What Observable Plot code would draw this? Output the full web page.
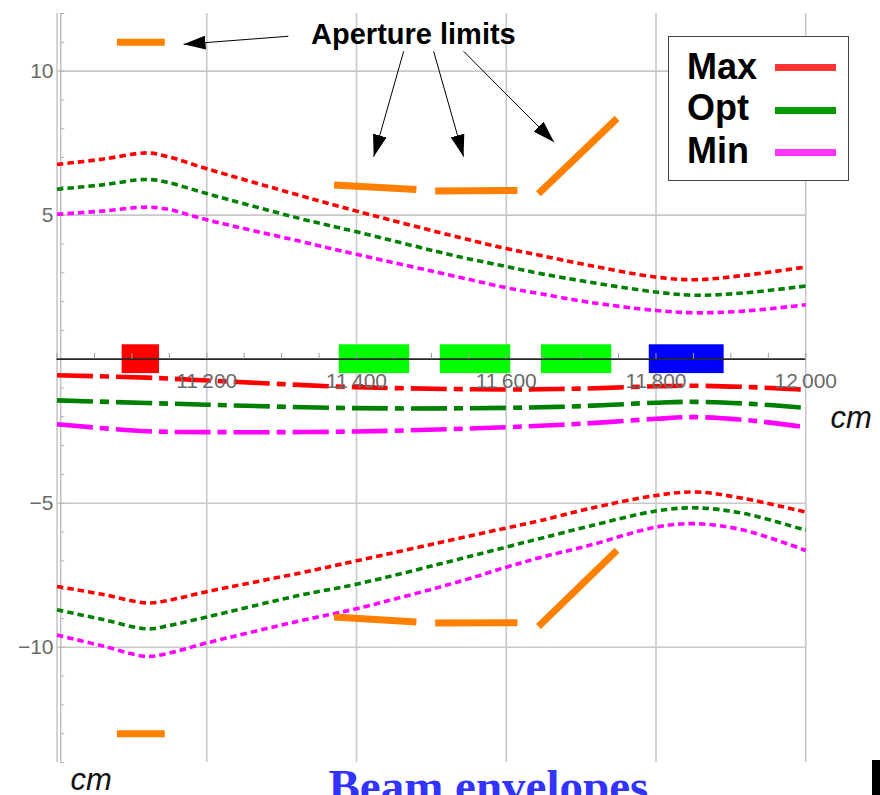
<!DOCTYPE html>
<html>
<head>
<meta charset="utf-8">
<script src="https://cdn.jsdelivr.net/npm/d3@7"></script>
<script src="https://cdn.jsdelivr.net/npm/@observablehq/plot@0.6"></script>
<style>
html, body { margin: 0; padding: 0; background: #fff; overflow: hidden; }
#wrap { position: relative; width: 880px; height: 795px; font-family: "Liberation Sans", Arial, sans-serif; }
#wrap svg { position: absolute; left: 0; top: 0; }
#legend { position: absolute; left: 668px; top: 36px; width: 179px; height: 143px; border: 1.3px solid #444; background: #fff; }
.lg { position: absolute; left: 18px; font-weight: bold; font-size: 36px; line-height: 36px; color: #000; white-space: nowrap; }
.sw { position: absolute; left: 106px; width: 61px; height: 7px; }
#blk { position: absolute; left: 872px; top: 760px; width: 8px; height: 35px; background: #000; }
</style>
</head>
<body>
<div id="wrap"></div>
<script>
// ---------- data ----------
// envelope sampling positions (cm)
const envX = [11000, 11060, 11120, 11147, 11200, 11325, 11400, 11540, 11600, 11646, 11710, 11800, 11853, 11918, 12000];
const upperMax = [6.76, 6.94, 7.16, 7.04, 6.61, 5.68, 5.14, 4.21, 3.84, 3.60, 3.26, 2.85, 2.76, 2.91, 3.20];
const upperOpt = [5.90, 6.05, 6.24, 6.14, 5.75, 4.88, 4.42, 3.54, 3.22, 2.97, 2.68, 2.33, 2.22, 2.30, 2.54];
const upperMin = [5.03, 5.14, 5.28, 5.21, 4.84, 4.09, 3.64, 2.83, 2.48, 2.27, 1.98, 1.69, 1.61, 1.67, 1.89];
const lowerMax = [-7.89, -8.16, -8.46, -8.38, -8.07, -7.42, -7.00, -6.20, -5.86, -5.60, -5.19, -4.73, -4.61, -4.84, -5.31];
const lowerOpt = [-8.70, -9.03, -9.36, -9.26, -8.95, -8.19, -7.81, -6.92, -6.52, -6.22, -5.80, -5.27, -5.16, -5.36, -5.94];
const lowerMin = [-9.57, -9.95, -10.32, -10.22, -9.85, -9.08, -8.66, -7.70, -7.22, -6.88, -6.47, -5.83, -5.71, -5.94, -6.64];

// beam centroid (dash-dot) curves
const cenX = [11000, 11120, 11200, 11400, 11600, 11700, 11800, 11850, 11927, 12000];
const centerMax = [-0.56, -0.64, -0.74, -0.97, -1.05, -1.02, -0.94, -0.92, -0.97, -1.06];
const centerOpt = [-1.43, -1.52, -1.58, -1.70, -1.69, -1.63, -1.51, -1.48, -1.55, -1.69];
const centerMin = [-2.26, -2.50, -2.53, -2.51, -2.36, -2.24, -2.07, -2.01, -2.13, -2.36];

// aperture limit segments
const apX1 = [11080, 11080, 11370, 11370, 11505, 11505, 11643, 11643];
const apY1 = [11.0, -13.0, 6.05, -8.95, 5.84, -9.16, 5.74, -9.28];
const apX2 = [11144, 11144, 11480, 11480, 11615, 11615, 11748, 11748];
const apY2 = [11.0, -13.0, 5.89, -9.12, 5.86, -9.15, 8.36, -6.63];

// magnets on the axis
const magnetStart = [11087, 11377, 11512, 11647, 11791];
const magnetEnd = [11137, 11471, 11606, 11741, 11891];
const magnetKind = ["dipole", "quad", "quad", "quad", "sext"];
const magnetHalf = 0.5;

// annotation arrows
const arrowX1 = [11309, 11463, 11503, 11543];
const arrowY1 = [11.21, 10.69, 10.69, 10.69];
const arrowX2 = [11169, 11423, 11543, 11664];
const arrowY2 = [10.93, 7.03, 7.03, 7.53];
const annotationText = "Aperture limits";
const annotationX = 11476;
const annotationY = 10.95;

// axes
const xGrid = [11000, 11200, 11400, 11600, 11800, 12000];
const xTicks = [11200, 11400, 11600, 11800, 12000];
const xTickLabels = ["11\u2009200", "11\u2009400", "11\u2009600", "11\u2009800", "12\u2009000"];
const yTicks = [-10, -5, 5, 10];
const yTickLabels = ["\u221210", "\u22125", "5", "10"];
const xMinor = d3.range(11000, 12001, 50);
const yMinor = d3.range(-14, 13, 1);
const yAxisX = 11005;
const xAxisTickLen = 0.2;
const yAxisTickLen = 5.5;

const seriesNames = ["Max", "Opt", "Min"];

// ---------- styles ----------
const colors = { Max: "#ff0000", Opt: "#008000", Min: "#ff00ff" };
const legendColors = { Max: "#ff3333", Opt: "#009900", Min: "#ff33ff" };
const magnetColor = { dipole: "#ff0000", quad: "#00ff00", sext: "#0000ff" };

const zip = (xs, ys) => xs.map((x, i) => ({ x, y: ys[i] }));
const apertures = apX1.map((x, i) => ({ x1: x, y1: apY1[i], x2: apX2[i], y2: apY2[i] }));
const arrows = arrowX1.map((x, i) => ({ x1: x, y1: arrowY1[i], x2: arrowX2[i], y2: arrowY2[i] }));
const magnets = magnetStart.map((s, i) => ({ start: s, end: magnetEnd[i], kind: magnetKind[i] }));

const envSeries = [
  { name: "Max", data: zip(envX, upperMax) }, { name: "Opt", data: zip(envX, upperOpt) }, { name: "Min", data: zip(envX, upperMin) },
  { name: "Max", data: zip(envX, lowerMax) }, { name: "Opt", data: zip(envX, lowerOpt) }, { name: "Min", data: zip(envX, lowerMin) }
];
const cenSeries = [
  { name: "Max", data: zip(cenX, centerMax) }, { name: "Opt", data: zip(cenX, centerOpt) }, { name: "Min", data: zip(cenX, centerMin) }
];

function filledHead(color) {
  const ns = "http://www.w3.org/2000/svg";
  const m = document.createElementNS(ns, "marker");
  m.setAttribute("viewBox", "0 -7 22 14");
  m.setAttribute("markerWidth", 22);
  m.setAttribute("markerHeight", 14);
  m.setAttribute("markerUnits", "userSpaceOnUse");
  m.setAttribute("refX", 22);
  m.setAttribute("refY", 0);
  m.setAttribute("orient", "auto");
  const p = document.createElementNS(ns, "path");
  p.setAttribute("d", "M0,-7L22,0L0,7Z");
  p.setAttribute("fill", color);
  p.setAttribute("stroke", "none");
  m.appendChild(p);
  return m;
}

let arrowMark;
try {
  arrowMark = Plot.link(arrows, { x1: "x1", y1: "y1", x2: "x2", y2: "y2", stroke: "#000", strokeWidth: 1, markerEnd: filledHead });
} catch (e) {
  arrowMark = Plot.arrow(arrows, { x1: "x1", y1: "y1", x2: "x2", y2: "y2", stroke: "#000", strokeWidth: 1, headLength: 20 });
}

const marks = [
  Plot.ruleX(xGrid, { stroke: "#c8c8c8", strokeWidth: 1.6 }),
  Plot.ruleY(yTicks, { stroke: "#c8c8c8", strokeWidth: 1.6 }),
  Plot.ruleX([yAxisX], { stroke: "#b8b8b8", strokeWidth: 1.3 }),
  Plot.ruleY(yMinor, { x1: yAxisX, x2: yAxisX + yAxisTickLen, stroke: "#b0b0b0", strokeWidth: 1 }),
  Plot.rect(magnets, { x1: "start", x2: "end", y1: -magnetHalf, y2: magnetHalf, fill: d => magnetColor[d.kind] }),
  Plot.ruleY([0], { stroke: "#262626", strokeWidth: 1.7 }),
  Plot.ruleX(xMinor, { y1: 0, y2: xAxisTickLen, stroke: "#9a9a9a", strokeWidth: 1 }),
  ...envSeries.map(s => Plot.line(s.data, { x: "x", y: "y", stroke: colors[s.name], strokeWidth: 3.6, strokeDasharray: "6.5,4", strokeLinecap: "butt", curve: "catmull-rom" })),
  ...cenSeries.map(s => Plot.line(s.data, { x: "x", y: "y", stroke: colors[s.name], strokeWidth: 4.6, strokeDasharray: "36,7,9,7", strokeLinecap: "butt", curve: "catmull-rom" })),
  Plot.link(apertures, { x1: "x1", y1: "y1", x2: "x2", y2: "y2", stroke: "#ff8000", strokeWidth: 7, strokeLinecap: "butt" }),
  arrowMark,
  Plot.text([annotationText], { x: annotationX, y: annotationY, text: d => d, textAnchor: "middle", lineAnchor: "bottom", fontSize: 29, fontWeight: "bold", fill: "#000" }),
  Plot.text(xTicks.map((v, i) => ({ v, label: xTickLabels[i] })), { x: "v", y: 0, text: "label", dy: 28.7, lineAnchor: "bottom", textAnchor: "middle", fontSize: 21, fill: "#6a6a6a" }),
  Plot.text(yTicks.map((v, i) => ({ v, label: yTickLabels[i] })), { x: 11000, y: "v", text: "label", dx: -3.5, textAnchor: "end", lineAnchor: "middle", fontSize: 21, fill: "#6a6a6a" }),
  Plot.text(["cm"], { frameAnchor: "right", text: d => d, dx: 24.75, dy: 39.8, textAnchor: "start", lineAnchor: "bottom", fontSize: 31, fontStyle: "italic", fill: "#111" }),
  Plot.text(["cm"], { frameAnchor: "bottom-left", text: d => d, dx: 13.5, dy: 27, textAnchor: "start", lineAnchor: "bottom", fontSize: 31, fontStyle: "italic", fill: "#111" }),
  Plot.text(["Beam envelopes"], { frameAnchor: "bottom-left", text: d => d, dx: 271.5, dy: 39, textAnchor: "start", lineAnchor: "bottom", fontSize: 47, fontWeight: "bold", fontFamily: "Liberation Serif, 'Times New Roman', serif", fill: "#3333ff" })
];

const chart = Plot.plot({
  width: 880,
  height: 795,
  marginLeft: 56.5,
  marginRight: 74.75,
  marginTop: 13,
  marginBottom: 33,
  x: { domain: [11000, 12000], axis: null },
  y: { domain: [-14, 12], axis: null },
  style: { background: "white", fontFamily: "Liberation Sans, Arial, sans-serif", overflow: "visible" },
  marks
});

const wrap = document.getElementById("wrap");
wrap.appendChild(chart);

// legend
const legend = document.createElement("div");
legend.id = "legend";
const textTops = [11.8, 53.2, 95.8];
const swatchTops = [26.5, 69.8, 111.5];
seriesNames.forEach((name, i) => {
  const t = document.createElement("div");
  t.className = "lg";
  t.style.top = textTops[i] + "px";
  t.textContent = name;
  legend.appendChild(t);
  const s = document.createElement("div");
  s.className = "sw";
  s.style.top = swatchTops[i] + "px";
  s.style.background = legendColors[name];
  legend.appendChild(s);
});
wrap.appendChild(legend);

const blk = document.createElement("div");
blk.id = "blk";
wrap.appendChild(blk);
</script>
</body>
</html>
